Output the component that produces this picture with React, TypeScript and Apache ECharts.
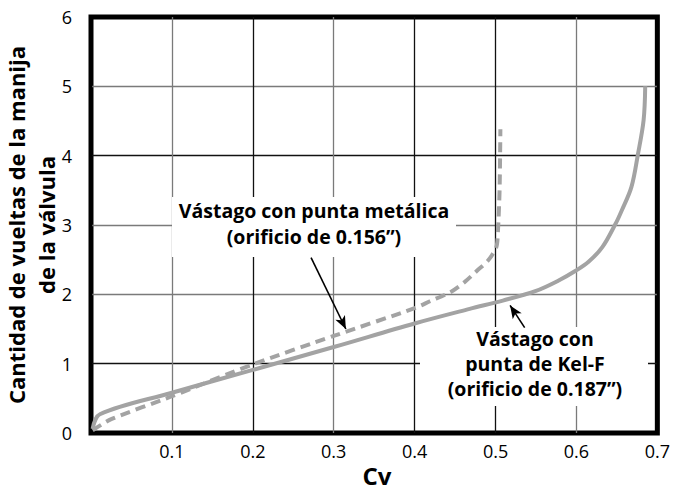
import React, { useEffect, useRef } from "react";
import * as echarts from "echarts";

// Kel-F tip stem (0.187" orifice) – solid
const cvKelF = [0.002, 0.011, 0.1, 0.2, 0.3, 0.4, 0.468, 0.509, 0.55, 0.578, 0.599, 0.615, 0.632, 0.648, 0.656, 0.668, 0.676, 0.683, 0.685];
const turnsKelF = [0.06, 0.27, 0.58, 0.91, 1.24, 1.58, 1.79, 1.91, 2.05, 2.2, 2.34, 2.47, 2.68, 3.01, 3.21, 3.55, 4.02, 4.51, 5.0];

// Metal tip stem (0.156" orifice) – dashed
const cvMetal = [0.002, 0.025, 0.1, 0.2, 0.3, 0.4, 0.419, 0.444, 0.462, 0.478, 0.491, 0.501, 0.503, 0.505, 0.506];
const turnsMetal = [0.04, 0.2, 0.53, 0.99, 1.4, 1.8, 1.9, 2.03, 2.18, 2.35, 2.49, 2.68, 2.92, 3.5, 4.38];

const xTicks = { min: 0, max: 0.7, interval: 0.1 };
const yTicks = { min: 0, max: 6, interval: 1 };

const xGridColors = ["#000", "#7a7a7a", "#111", "#7a7a7a", "#111", "#111", "#7a7a7a", "#000"];
const yGridColors = ["#000", "#111", "#7a7a7a", "#7a7a7a", "#111", "#7a7a7a", "#000"];

const labelMetal = "Vástago con punta metálica\n(orificio de 0.156\u201D)";
const labelKelF = "Vástago con\npunta de Kel-F\n(orificio de 0.187\u201D)";
const yName = "Cantidad de vueltas de la manija\nde la válvula";
const xName = "Cv";

// arrow tails/tips in data coordinates [cv, turns]
const arrowMetal = [[0.272, 2.53], [0.315, 1.5]];
const arrowKelF = [[0.536, 1.52], [0.518, 1.84]];

const zip = (xs: number[], ys: number[]) => xs.map((x, i) => [x, ys[i]]);

export default function App() {
  const ref = useRef<HTMLDivElement>(null);
  useEffect(() => {
    if (!ref.current) return;
    const chart = echarts.init(ref.current, null, { renderer: "svg" });
    const boldFont = "'Open Sans'";
    chart.setOption({
      animation: false,
      backgroundColor: "#fff",
      grid: {
        left: 91,
        right: 11,
        top: 17,
        bottom: 60,
        show: true,
        borderColor: "#000",
        borderWidth: 5,
        backgroundColor: "transparent",
      },
      xAxis: {
        type: "value",
        ...xTicks,
        axisLine: { show: false },
        axisTick: { show: false },
        splitLine: { show: true, lineStyle: { color: xGridColors, width: 1.3 } },
        axisLabel: {
          showMinLabel: false,
          margin: 9,
          color: "#000",
          fontSize: 18,
          fontFamily: "Open Sans",
          formatter: (v: number) => v.toFixed(1),
        },
      },
      yAxis: {
        type: "value",
        ...yTicks,
        axisLine: { show: false },
        axisTick: { show: false },
        splitLine: { show: true, lineStyle: { color: yGridColors, width: 1.3 } },
        axisLabel: {
          margin: 19,
          color: "#000",
          fontSize: 18,
          fontFamily: "Open Sans",
        },
      },
      graphic: [
        { type: "rect", z: 1, shape: { x: 172, y: 197, width: 284, height: 60 }, style: { fill: "#fff" } },
        { type: "rect", z: 1, shape: { x: 420, y: 327, width: 228, height: 79 }, style: { fill: "#fff" } },
        {
          type: "text",
          z: 3,
          x: 314,
          y: 223,
          style: {
            text: labelMetal,
            fill: "#000",
            font: `bold 19.5px ${boldFont}`,
            lineHeight: 26,
            align: "center",
            verticalAlign: "middle",
          },
        },
        {
          type: "text",
          z: 3,
          x: 535,
          y: 363,
          style: {
            text: labelKelF,
            fill: "#000",
            font: `bold 19.5px ${boldFont}`,
            lineHeight: 25,
            align: "center",
            verticalAlign: "middle",
          },
        },
        {
          type: "text",
          x: 31,
          y: 225,
          rotation: Math.PI / 2,
          style: {
            text: yName,
            fill: "#000",
            font: `bold 22px ${boldFont}`,
            lineHeight: 30,
            align: "center",
            verticalAlign: "middle",
          },
        },
        {
          type: "text",
          x: 377,
          y: 475,
          style: {
            text: xName,
            fill: "#000",
            font: `bold 24px ${boldFont}`,
            align: "center",
            verticalAlign: "middle",
          },
        },
      ],
      series: [
        {
          type: "line",
          data: zip(cvKelF, turnsKelF),
          showSymbol: false,
          smooth: 0.35,
          z: 2,
          lineStyle: { color: "#a3a3a3", width: 4 },
          markLine: {
            silent: true,
            symbol: ["none", "arrow"],
            symbolSize: [8, 13],
            label: { show: false },
            lineStyle: { color: "#000", width: 1.6, type: "solid" },
            data: [
              [{ coord: arrowMetal[0] }, { coord: arrowMetal[1] }],
              [{ coord: arrowKelF[0] }, { coord: arrowKelF[1] }],
            ],
          },
        },
        {
          type: "line",
          data: zip(cvMetal, turnsMetal),
          showSymbol: false,
          smooth: 0.25,
          z: 2,
          lineStyle: { color: "#a3a3a3", width: 4, type: [10, 6] },
        },
      ],
    });
    return () => chart.dispose();
  }, []);
  return (
    <div
      ref={ref}
      style={{ position: "fixed", left: 0, top: 0, width: 673, height: 493 }}
    />
  );
}
